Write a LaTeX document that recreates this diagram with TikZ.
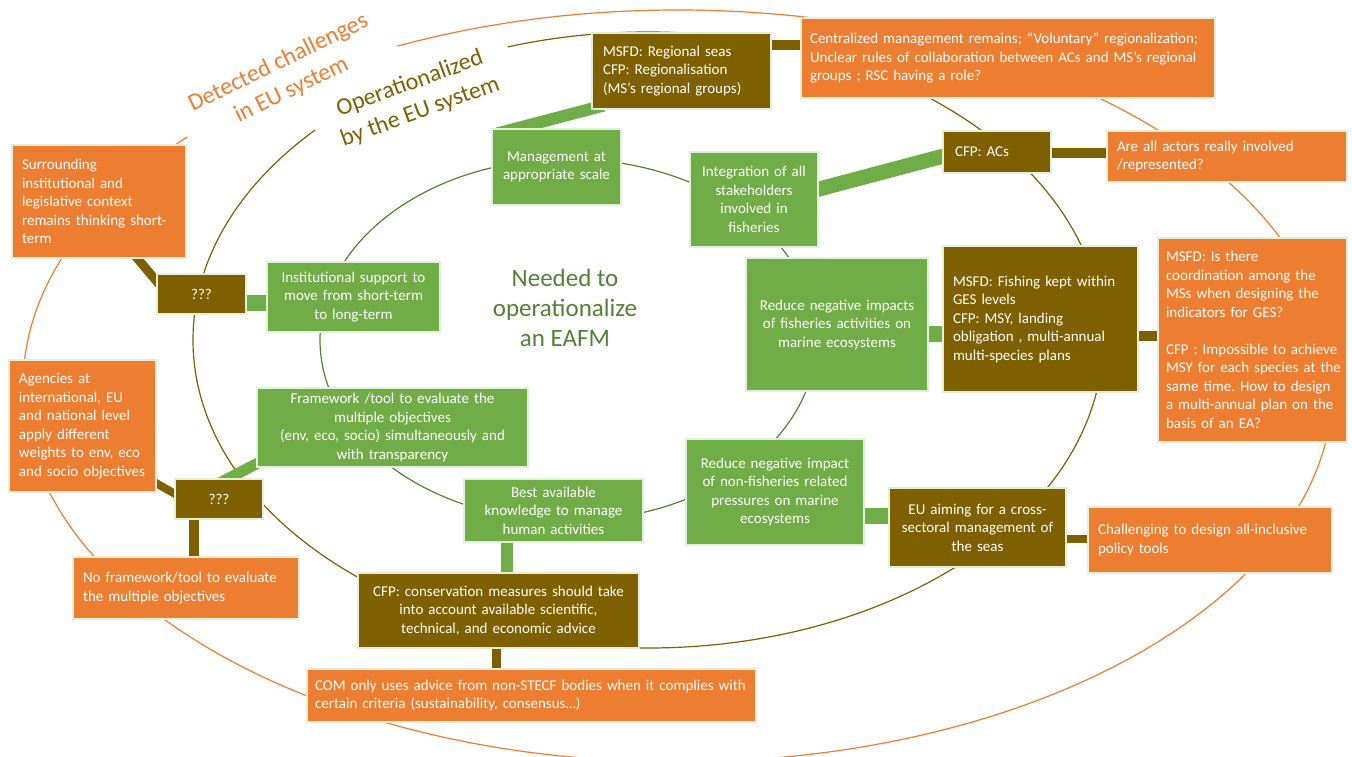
\documentclass[tikz,border=0pt]{standalone}
\usepackage{fontspec}
\setmainfont{Carlito}
\usetikzlibrary{calc}
\definecolor{cOr}{RGB}{237,125,49}
\definecolor{cGr}{RGB}{112,173,71}
\definecolor{cBr}{RGB}{127,96,0}
\definecolor{cDg}{RGB}{84,130,53}
\definecolor{cEdge}{RGB}{226,239,217}
\pgfdeclarelayer{background}
\pgfsetlayers{background,main}
\newcommand{\oneline}[1]{\mbox{#1}}
\frenchspacing
\begin{document}
\begin{tikzpicture}[x=1pt,y=-1pt,
 box/.style={draw=cEdge, line width=1.2pt, text=white, font=\fontsize{15}{18.5}\selectfont, inner xsep=10pt, inner ysep=2pt},
 obox/.style={box, fill=cOr, align=left},
 gbox/.style={box, fill=cGr, align=center},
 bbox/.style={box, fill=cBr},
 sz/.style n args={3}{minimum width=#1pt, minimum height=#2pt, text width=#3pt},
 gbar/.style={draw=cGr, line width=#1pt},
 bbar/.style={draw=cBr, line width=#1pt},
 ring/.style={draw=#1, line width=1.2pt},
 title/.style={font=\fontsize{24}{30}\selectfont, align=center, fill=white, inner xsep=16pt, inner ysep=3pt}
]
\useasboundingbox (0,0) rectangle (1352,757);

% titles
\node[title, text=cOr, rotate=26] (tdet) at (285,76.5) {Detected challenges\\in EU system};
\node[title, text=cBr, rotate=20, inner xsep=21pt] (tops) at (415,98) {Operationalized\\by the EU system};
\node[font=\fontsize{25}{30}\selectfont, text=cDg, align=center] (need) at (565,308) {Needed to\\operationalize\\an EAFM};

% boxes
\node[obox, sz={174}{113}{154}] (o1) at (99,201.5) {Surrounding\\institutional and\\legislative context\\remains thinking short-\\term};
\node[bbox, align=center, minimum width=89pt, minimum height=40pt] (b1) at (201.5,294) {???};
\node[gbox, sz={173}{70}{153}] (g1) at (353.5,297) {Institutional support to\\move from short-term\\to long-term};
\node[obox, sz={147}{132}{127}] (o2) at (82.5,426) {Agencies at\\international, EU\\and national level\\apply different\\weights to env, eco\\and socio objectives};
\node[gbox, sz={271}{79}{251}] (g2) at (392.5,427.5) {Framework /tool to evaluate the\\multiple objectives\\(env, eco, socio) simultaneously and\\with transparency};
\node[bbox, align=center, minimum width=88pt, minimum height=40pt] (b2) at (219,499) {???};
\node[obox, sz={226}{62}{206}] (o3) at (186,588) {No framework/tool to evaluate\\the multiple objectives};
\node[gbox, sz={179}{63}{159}] (g3) at (553.5,510.5) {Best available\\knowledge to manage\\human activities};
\node[bbox, align=center, sz={281}{75}{261}] (b3) at (498.5,610.5) {CFP: conservation measures should take\\into account available scientific,\\technical, and economic advice};
\node[obox, inner xsep=8pt, sz={449}{53}{433}] (o4) at (531.5,695.5) {\oneline{COM only uses advice from non-STECF bodies when it complies with}\\certain criteria (sustainability, consensus…)};
\node[gbox, inner xsep=6pt, sz={129}{76}{117}] (g4) at (556.5,167) {Management at\\appropriate scale};
\node[bbox, align=left, inner xsep=11pt, sz={179}{76}{157}] (b4) at (681.5,71) {MSFD: Regional seas\\CFP: Regionalisation\\(MS’s regional groups)};
\node[obox, inner xsep=9pt, sz={414}{80}{396}] (o5) at (1008,58) {\oneline{Centralized management remains; “Voluntary” regionalization;}\\\oneline{Unclear rules of collaboration between ACs and MS’s regional}\\groups ; RSC having a role?};
\node[gbox, sz={128}{95}{108}] (g5) at (754,199.5) {Integration of all\\stakeholders\\involved in\\fisheries};
\node[bbox, align=left, inner xsep=12pt, sz={108}{42}{84}] (b5) at (997,152) {CFP: ACs};
\node[obox, sz={240}{51}{220}] (o6) at (1227,156.5) {Are all actors really involved\\/represented?};
\node[gbox, sz={182}{133}{162}] (g6) at (837,324.5) {Reduce negative impacts\\of fisheries activities on\\marine ecosystems};
\node[bbox, align=left, sz={195}{146}{175}] (b6) at (1040.5,319) {MSFD: Fishing kept within\\GES levels\\CFP: MSY, landing\\obligation , multi-annual\\multi-species plans};
\node[obox, inner xsep=8pt, sz={189}{204}{173}] (o7) at (1252.5,340) {MSFD: Is there\\coordination among the\\MSs when designing the\\indicators for GES?\\[18.5pt]CFP : Impossible to achieve\\\oneline{MSY for each species at the}\\same time. How to design\\a multi-annual plan on the\\basis of an EA?};
\node[gbox, sz={178}{106}{158}] (g7) at (775,492) {Reduce negative impact\\of non-fisheries related\\pressures on marine\\ecosystems};
\node[bbox, align=center, inner xsep=8pt, sz={177}{79}{161}] (b7) at (977.5,527.5) {EU aiming for a cross-\\sectoral management of\\the seas};
\node[obox, sz={244}{66}{224}] (o8) at (1210,540) {Challenging to design all-inclusive\\policy tools};

\begin{pgfonlayer}{background}
\fill[white] (0,0) rectangle (1352,757);
\draw[ring=cOr] (678,386) ellipse [x radius=655pt, y radius=376pt];
\draw[ring=cBr] (648,340) ellipse [x radius=455pt, y radius=308pt];
\draw[ring=cDg] (568,340) ellipse [x radius=248pt, y radius=181pt];
% bars
\draw[bbar=9] ([xshift=36pt,yshift=3pt]o1.south) -- ([xshift=11pt]b1.west);
\draw[gbar=16] ([yshift=-9pt]b1.center) -- ([yshift=-9pt]b1.center -| g1.center);
\draw[bbar=8] ([xshift=-6pt,yshift=-54pt]o2.east) -- ([xshift=6pt,yshift=2pt]b2.west);
\draw[gbar=11] ([xshift=12pt,yshift=10pt]g2.south west) -- ([xshift=-2pt,yshift=-6pt]b2.north);
\draw[bbar=10] ([xshift=-25pt]b2.center) -- ([xshift=-25pt]b2.center |- o3.center);
\draw[gbar=12] ([xshift=-46.5pt]g3.center) -- ([xshift=-46.5pt]g3.center |- b3.center);
\draw[bbar=9] ([xshift=-2.5pt]b3.center) -- ([xshift=-2.5pt]b3.center |- o4.center);
\draw[gbar=12] ([xshift=6pt,yshift=-5pt]g4.north west) -- ([xshift=12pt,yshift=4pt]b4.south west);
\draw[bbar=10] ([yshift=26pt]b4.center) -- ([yshift=26pt]b4.center -| o5.center);
\draw[gbar=15] ([xshift=-5pt,yshift=9pt]g5.east) -- ([xshift=5pt,yshift=-3pt]b5.west);
\draw[bbar=10] ([yshift=-1pt]b5.center) -- ([yshift=-1pt]b5.center -| o6.center);
\draw[gbar=16] ([yshift=-9.5pt]g6.center) -- ([yshift=-9.5pt]g6.center -| b6.center);
\draw[bbar=10] ([yshift=-17pt]b6.center) -- ([yshift=-17pt]b6.center -| o7.center);
\draw[gbar=16] ([yshift=-24pt]g7.center) -- ([yshift=-24pt]g7.center -| b7.center);
\draw[bbar=8] ([yshift=-11.5pt]b7.center) -- ([yshift=-11.5pt]b7.center -| o8.center);
\end{pgfonlayer}
\end{tikzpicture}
\end{document}
